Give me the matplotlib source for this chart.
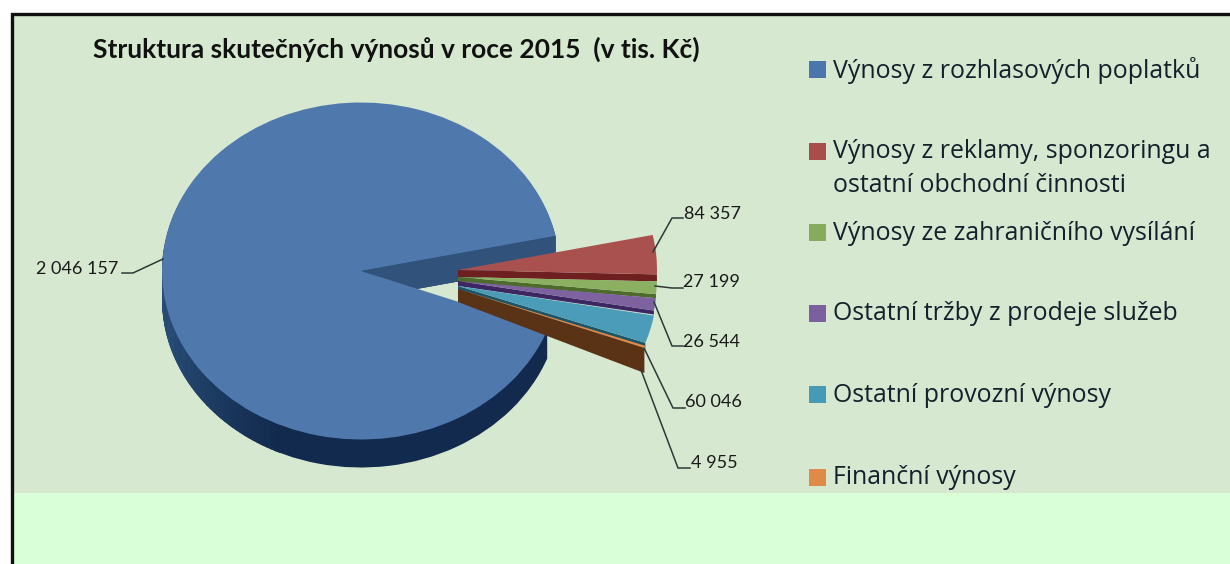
import numpy as np
import matplotlib
matplotlib.use('Agg')
import matplotlib.pyplot as plt
from matplotlib.colors import to_rgb
from matplotlib.patches import Rectangle

W, H = 1230, 564

title = 'Struktura skutečných výnosů v roce 2015  (v tis. Kč)'
legend_labels = ['Výnosy z rozhlasových poplatků',
                 'Výnosy z reklamy, sponzoringu a\nostatní obchodní činnosti',
                 'Výnosy ze zahraničního vysílání',
                 'Ostatní tržby z prodeje služeb',
                 'Ostatní provozní výnosy',
                 'Finanční výnosy']
values = [2046157, 84357, 27199, 26544, 60046, 4955]
value_labels = ['2 046 157', '84 357', '27 199', '26 544', '60 046', '4 955']

top_colors = ['#4f78ad', '#a9514f', '#8bb061', '#7e62a0', '#4a9cb8', '#e08a45']
side_colors = ['#122a4d', '#6e1f20', '#4f6b2c', '#3d2763', '#1c5568', '#5a3216']
swatch_colors = ['#4a76ad', '#a94d4b', '#87ab5c', '#7c5f9e', '#479ab6', '#df8a48']

# pie geometry in pixels of the picture
cx, cy, rx, ry = 361, 271, 199, 168.5
start = -20.5
blue_depth = 28
shift_x = 97
shift_y = [0, -1, 6, 10, 15, 18]
depth_apex = [0, 7, 5, 5, 6, 13]
depth_outer = [0, 7, 4, 4, 8, 25]

fig = plt.figure(figsize=(W / 100, H / 100), dpi=100, facecolor='white')

# background panels and frame
bg = fig.add_axes([0, 0, 1, 1], zorder=0)
bg.set_xlim(0, W)
bg.set_ylim(H, 0)
bg.axis('off')
bg.add_patch(Rectangle((12, 14), W - 12, 480, fc='#d7e8d1', ec='none'))
bg.add_patch(Rectangle((12, 493), W - 12, H - 493, fc='#d9ffd8', ec='none'))
bg.plot([12, 12, W], [H, 14, 14], color='#111111', lw=2.4, solid_joinstyle='miter')

# pie, one unit of radius is rx wide and ry high
ax = fig.add_axes([0, 0, 1, 1], zorder=1)


def draw_pie(colors, offsets):
    wedges, _ = ax.pie(values, colors=colors, startangle=start, counterclock=False,
                       wedgeprops={'linewidth': 0})
    for w, (ox, oy) in zip(wedges, offsets):
        w.set_center((ox / rx, -oy / ry))
    return wedges


def only(i, color):
    return [color if j == i else 'none' for j in range(len(values))]


angles = start - np.cumsum([0] + values) / sum(values) * 360
# angle of the clockwise end of each slice
ends = [np.radians(a) for a in angles[1:]]

# blue slice: rim made of stacked copies, then the flat cut face
for d in range(blue_depth, 0, -1):
    draw_pie(only(0, side_colors[0]), [(0, d)] * len(values))

# rim gets lighter towards the left side
rim_dark = np.array(to_rgb(side_colors[0]))
rim_light = np.array(to_rgb('#2f5985'))
for deg in np.arange(180, 245, 1.5):
    a = np.radians(deg)
    b = np.radians(deg + 1.8)
    mix = (245 - deg) / 65
    ax.fill([np.cos(a), np.cos(b), np.cos(b), np.cos(a)],
            [np.sin(a), np.sin(b), np.sin(b) - blue_depth / ry, np.sin(a) - blue_depth / ry],
            color=rim_dark + (rim_light - rim_dark) * mix, lw=0, zorder=4)

t = ends[0]
ax.fill([0, np.cos(t), np.cos(t), 0],
        [0, np.sin(t), np.sin(t) - blue_depth / ry, -blue_depth / ry],
        color='#30527b', lw=0, zorder=5)
tops = draw_pie(only(0, top_colors[0]), [(0, 0)] * len(values))
for w in tops:
    w.set_zorder(6)

# pulled out slices, drawn from the top one down
for i in range(1, len(values)):
    ox, oy = shift_x, shift_y[i]
    x0, y0 = ox / rx, -oy / ry
    t = ends[i]
    xe, ye = x0 + np.cos(t), y0 + np.sin(t)
    z = 6 + i
    ax.fill([x0, xe, xe, x0],
            [y0, ye, ye - depth_outer[i] / ry, y0 - depth_apex[i] / ry],
            color=side_colors[i], lw=0, zorder=z)
    for w in draw_pie(only(i, top_colors[i]), [(ox, oy)] * len(values)):
        w.set_zorder(z + 0.5)

ax.set_aspect('auto')
ax.set_xlim(-cx / rx, (W - cx) / rx)
ax.set_ylim((cy - H) / ry, cy / ry)
ax.axis('off')

# texts, leader lines and legend in picture pixels
ov = fig.add_axes([0, 0, 1, 1], zorder=2)
ov.set_xlim(0, W)
ov.set_ylim(H, 0)
ov.axis('off')
ov.patch.set_alpha(0)

ov.text(93, 49, title, fontsize=19, fontweight='bold', family='Lato',
        color='#111111', va='center', ha='left')

label_pos = [(36, 269), (684, 214), (683, 282), (683, 342), (685, 402), (691, 463)]
leaders = [[(122, 273), (133, 273), (163, 259)],
           [(683, 218), (672, 218), (653, 252)],
           [(683, 288), (672, 288), (655, 286)],
           [(683, 346), (672, 346), (654, 302)],
           [(685, 408), (673, 408), (645, 350)],
           [(690, 468), (678, 468), (641, 370)]]
for txt, (x, y), pts in zip(value_labels, label_pos, leaders):
    ov.text(x, y, txt, fontsize=13, family='Lato', color='#1a1a1a', va='center', ha='left')
    ov.plot([p[0] for p in pts], [p[1] for p in pts], color='#2b3a38', lw=1.1)

legend_y = [69, 151, 232, 313, 394, 477]
for txt, y, c in zip(legend_labels, legend_y, swatch_colors):
    ov.add_patch(Rectangle((809, y - 8.5), 17, 17, fc=c, ec='none'))
    for k, line in enumerate(txt.split('\n')):
        ov.text(833, y + 1 + k * 33, line, fontsize=17.9, family='Open Sans',
                color='#14202c', va='center', ha='left')

fig.savefig('out.png', dpi=100)
